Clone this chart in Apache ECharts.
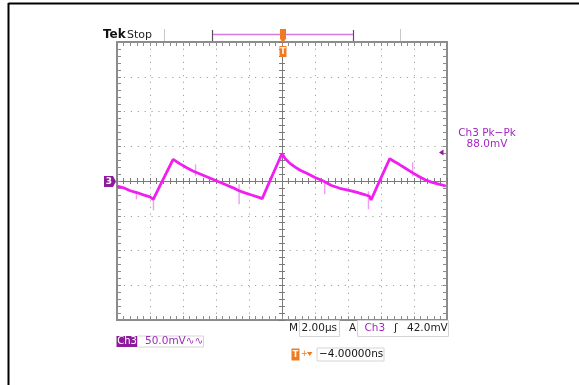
<!DOCTYPE html>
<html><head><meta charset="utf-8">
<script src="https://cdn.jsdelivr.net/npm/echarts@6/dist/echarts.min.js"></script>
<style>html,body{margin:0;padding:0;background:#fff}#c{width:579px;height:385px}</style>
</head><body><div id="c"></div>
<script>
// Time axis (µs), 2.00 µs/div, 10 divisions
const timeTicks = [-10, -8, -6, -4, -2, 0, 2, 4, 6, 8, 10];
// Voltage axis (mV), 50.0 mV/div, 8 divisions
const voltTicks = [-200, -150, -100, -50, 0, 50, 100, 150, 200];
// Ch3 trace: time (µs) and voltage (mV)
const traceTime = [-10.0,-9.6,-9.2,-8.8,-8.4,-8.0,-7.8,-7.4,-7.0,-6.6,-6.2,-5.8,-5.4,-5.0,-4.6,-4.2,-3.8,-3.4,-3.0,-2.6,-2.2,-1.8,-1.4,-1.2,-0.8,-0.4,0.0,0.2,0.5,0.8,1.1,1.5,2.0,2.5,3.0,3.5,4.0,4.5,5.0,5.3,5.4,5.8,6.2,6.53,6.8,7.1,7.5,7.9,8.3,8.7,9.1,9.5,9.93];
const traceVolt = [-7.5,-9.8,-14.0,-16.6,-19.9,-22.8,-26.3,-7.0,12.0,31.2,25.0,19.5,14.5,10.5,6.5,2.5,-1.5,-5.5,-9.5,-14.0,-17.5,-20.5,-23.5,-25.3,-3.5,18.0,39.5,32.0,25.0,20.0,15.5,11.0,5.0,0.0,-6.5,-10.5,-13.0,-16.0,-19.5,-22.0,-27.3,-6.0,15.0,32.2,28.0,24.0,18.0,12.0,6.5,1.4,-2.0,-4.5,-7.2];
// Glitch spikes: time (µs), low and high (mV)
const spikeTime = [-8.82, -7.79, -5.24, -2.6, 2.59, 5.24, 7.92];
const spikeLow  = [-26.3, -42.2, 6.8, -33.5, -19.1, -40.7, 6.8];
const spikeHigh = [-16.3, -26.3, 24.0, -4.7, -1.9, -14.8, 27.0];

const traceData = traceTime.map((t, i) => [t, traceVolt[i]]);
const spikeData = spikeTime.map((t, i) => [t, spikeLow[i], spikeHigh[i]]);

const GL = 117, GT = 42, GW = 330, GH = 278;
const gridGray = '#8c8c8c', dotGray = '#a0a0a0';
const purple = '#a228bf', dark = '#8e1a9c', orange = '#f07a22';

function xAx(extra) {
  return Object.assign({
    type: 'value', min: -10, max: 10, interval: 2, gridIndex: 0,
    axisLabel: { show: false }, splitLine: { show: false },
    axisLine: { show: true, onZero: false, lineStyle: { color: gridGray, width: 2 } },
    axisTick: { show: true, inside: true, length: 4, lineStyle: { color: gridGray } },
    minorTick: { show: true, splitNumber: 5, length: 4, lineStyle: { color: gridGray } }
  }, extra);
}
function yAx(extra) {
  return Object.assign({
    type: 'value', min: -200, max: 200, interval: 50, gridIndex: 0,
    axisLabel: { show: false }, splitLine: { show: false },
    axisLine: { show: true, onZero: false, lineStyle: { color: gridGray, width: 2 } },
    axisTick: { show: true, inside: true, length: 4, lineStyle: { color: gridGray } },
    minorTick: { show: true, splitNumber: 5, length: 4, lineStyle: { color: gridGray } }
  }, extra);
}
const centerLine = { show: true, onZero: false, lineStyle: { color: '#7a7a7a', width: 1 } };
const cTick = (inside) => ({ show: true, inside: inside, length: 3, lineStyle: { color: '#7a7a7a' } });
const cMinor = { show: true, splitNumber: 5, length: 3, lineStyle: { color: '#7a7a7a' } };

const chart = echarts.init(document.getElementById('c'), null, { renderer: 'canvas' });

function T(text, x, y, color, size, extra) {
  return { type: 'text', z: 100, style: Object.assign({
    text: text, x: x, y: y, fill: color,
    font: (extra && extra.weight ? extra.weight + ' ' : '') + size + 'px "DejaVu Sans", sans-serif',
    textAlign: (extra && extra.align) || 'left', align: (extra && extra.align) || 'left',
    textVerticalAlign: 'middle', verticalAlign: 'middle'
  }) };
}
function R(x, y, w, h, fill, stroke) {
  return { type: 'rect', z: 90, shape: { x: x, y: y, width: w, height: h },
    style: { fill: fill || 'none', stroke: stroke || null, lineWidth: 1 } };
}
function L(x1, y1, x2, y2, color, w) {
  return { type: 'line', z: 90, shape: { x1: x1, y1: y1, x2: x2, y2: y2 },
    style: { stroke: color, lineWidth: w || 1 } };
}

const option = {
  backgroundColor: '#ffffff',
  animation: false,
  grid: { left: GL, top: GT, width: GW, height: GH, containLabel: false },
  xAxis: [
    xAx({ position: 'bottom', splitLine: { show: true, lineStyle: { color: dotGray, type: [1.2, 5.4], width: 1 } } }),
    xAx({ position: 'top' }),
    xAx({ position: 'bottom', offset: -GH / 2, axisLine: centerLine, axisTick: cTick(true), minorTick: cMinor }),
    xAx({ position: 'bottom', offset: -GH / 2, axisLine: centerLine, axisTick: cTick(false), minorTick: cMinor })
  ],
  yAxis: [
    yAx({ position: 'left', splitLine: { show: true, lineStyle: { color: dotGray, type: [1.2, 5.7], width: 1 } } }),
    yAx({ position: 'right' }),
    yAx({ position: 'left', offset: -GW / 2, axisLine: centerLine, axisTick: cTick(true), minorTick: cMinor }),
    yAx({ position: 'left', offset: -GW / 2, axisLine: centerLine, axisTick: cTick(false), minorTick: cMinor })
  ],
  series: [
    {
      type: 'custom', name: 'glitch', xAxisIndex: 0, yAxisIndex: 0, z: 3,
      data: spikeData,
      renderItem: function (params, api) {
        const a = api.coord([api.value(0), api.value(1)]);
        const b = api.coord([api.value(0), api.value(2)]);
        return { type: 'line', shape: { x1: a[0], y1: a[1], x2: b[0], y2: b[1] },
          style: { stroke: '#f29cf2', lineWidth: 1.4 } };
      }
    },
    {
      type: 'line', name: 'Ch3', xAxisIndex: 0, yAxisIndex: 0, z: 5,
      data: traceData, showSymbol: false, symbol: 'none', smooth: false,
      lineStyle: { color: '#f01ef0', width: 2.8 }
    }
  ],
  graphic: [
    // outer frame
    L(8.5, 3.5, 579, 3.5, '#000', 2),
    L(8.5, 3, 8.5, 385, '#000', 2),
    // header
    T('Tek', 103, 35, '#111', 12, { weight: 'bold' }),
    T('Stop', 127, 35, '#222', 11),
    L(164.5, 29, 164.5, 41, '#c8c8c8', 1),
    L(400.5, 29, 400.5, 41, '#c8c8c8', 1),
    L(212.5, 30, 212.5, 41, '#555', 1.2),
    L(353.5, 30, 353.5, 41, '#555', 1.2),
    L(213, 34.5, 353, 34.5, '#d27be0', 1.5),
    R(280, 29, 6, 9, orange),
    { type: 'polygon', z: 92, shape: { points: [[279.5, 38], [286.5, 38], [283, 43]] }, style: { fill: orange } },
    R(279.5, 46, 7, 11, orange),
    T('T', 283, 51.5, '#fff', 8, { align: 'center', weight: 'bold' }),
    // ground marker
    { type: 'polygon', z: 92, shape: { points: [[104, 176], [113, 176], [116, 181.5], [113, 187], [104, 187]] }, style: { fill: dark } },
    T('3', 109, 181.5, '#fff', 9, { align: 'center', weight: 'bold' }),
    // trigger level marker
    { type: 'polygon', z: 92, shape: { points: [[439, 152.5], [443.5, 149.5], [443.5, 155.5]] }, style: { fill: dark } },
    // measurement
    T('Ch3 Pk\u2212Pk', 487, 133, purple, 10.5, { align: 'center' }),
    T('88.0mV', 487, 144.5, purple, 10.5, { align: 'center' }),
    // bottom readouts
    T('M', 289, 328.5, '#222', 10.5),
    R(299.5, 320.5, 40, 16, '#fff', '#d4d4d4'),
    T('2.00\u00b5s', 301.5, 328.5, '#222', 10.5),
    T('A', 349, 328.5, '#222', 10.5),
    R(357.5, 320.5, 91, 16, '#fff', '#d4d4d4'),
    T('Ch3', 364.5, 328.5, purple, 10.5),
    T('\u0283', 394, 328.5, '#222', 11),
    T('42.0mV', 407, 328.5, '#222', 10.5),
    R(116.5, 336, 21, 11, dark),
    T('Ch3', 127, 341.5, '#fff', 10, { align: 'center' }),
    R(137.5, 336, 66, 11, '#fff', '#d4d4d4'),
    T('50.0mV\u223f\u223f', 145, 341.5, purple, 10.5),
    R(291.5, 348.5, 8, 12, orange),
    T('T', 295.5, 354.5, '#fff', 8, { align: 'center', weight: 'bold' }),
    T('+', 301, 354, orange, 8),
    { type: 'polygon', z: 92, shape: { points: [[307, 352], [312.5, 352], [309.75, 356]] }, style: { fill: orange } },
    R(317, 348, 67, 13, '#fff', '#d4d4d4'),
    T('\u22124.00000ns', 319, 354.5, '#111', 10.5)
  ]
};
chart.setOption(option);
</script>
</body></html>
